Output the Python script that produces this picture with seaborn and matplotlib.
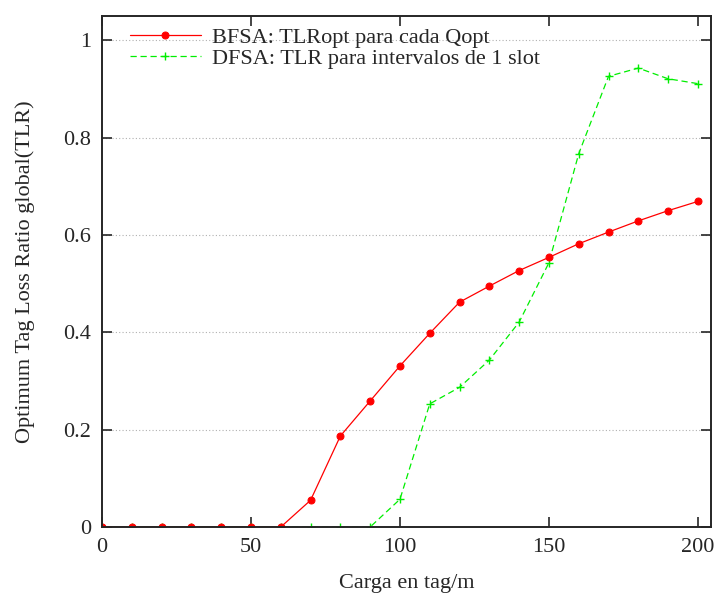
import numpy as np
import pandas as pd
import matplotlib
matplotlib.use("Agg")
import matplotlib.pyplot as plt
import seaborn as sns

# Data
carga = list(range(0, 210, 10))
bfsa_tlr = [0, 0, 0, 0, 0, 0, 0, 0.055, 0.187, 0.259, 0.331, 0.398, 0.462,
            0.495, 0.527, 0.554, 0.582, 0.606, 0.629, 0.650, 0.669]
dfsa_tlr = [0, 0, 0, 0, 0, 0, 0, 0, 0, 0, 0.057, 0.253, 0.287, 0.343,
            0.421, 0.543, 0.767, 0.926, 0.943, 0.921, 0.911]

label_bfsa = "BFSA: TLRopt para cada Qopt"
label_dfsa = "DFSA: TLR para intervalos de 1 slot"

sns.set_style("ticks")
plt.rcParams["font.family"] = ["Liberation Serif", "DejaVu Serif"]

fig = plt.figure(figsize=(7.2, 5.99), dpi=100)
ax = fig.add_axes([0.1417, 0.1202, 0.8458, 0.8531])

# grid (horizontal dotted lines)
for yv in [0.2, 0.4, 0.6, 0.8, 1.0]:
    ax.axhline(yv, color="#b0b0b0", linestyle=(0, (1, 2)), linewidth=0.8, zorder=0)

# DFSA first so the red series sits on top
sns.lineplot(x=carga, y=dfsa_tlr, color="#00ee00", dashes=(5, 3),
             linewidth=0.9, marker="+", markersize=6, markeredgewidth=1,
             markeredgecolor="#00ee00", label=label_dfsa, ax=ax)
sns.lineplot(x=carga, y=bfsa_tlr, color="#ff0000", linewidth=0.9,
             marker="o", markersize=5, markeredgecolor="#ff0000",
             label=label_bfsa, ax=ax)

ax.set_xlim(0, 204.4)
ax.set_ylim(0, 1.05)
ax.set_xticks([0, 50, 100, 150, 200])
ax.set_yticks([0, 0.2, 0.4, 0.6, 0.8, 1])
ax.set_yticklabels(["0", "0.2", "0.4", "0.6", "0.8", "1"])
ax.tick_params(direction="in", top=True, right=True, length=7, width=1.2,
               labelsize=16, pad=8)
for s in ax.spines.values():
    s.set_linewidth(1.4)

ax.set_xlabel("Carga en tag/m", fontsize=16, labelpad=12)
ax.set_ylabel("Optimum Tag Loss Ratio global(TLR)", fontsize=16, labelpad=20)

handles, labels = ax.get_legend_handles_labels()
ax.legend(handles[::-1], labels[::-1], loc="upper left", frameon=False,
          fontsize=16, handlelength=3.2, handletextpad=0.5,
          borderaxespad=0.3, labelspacing=0.0,
          bbox_to_anchor=(0.02, 1.008))

fig.savefig("out.png", dpi=100)
